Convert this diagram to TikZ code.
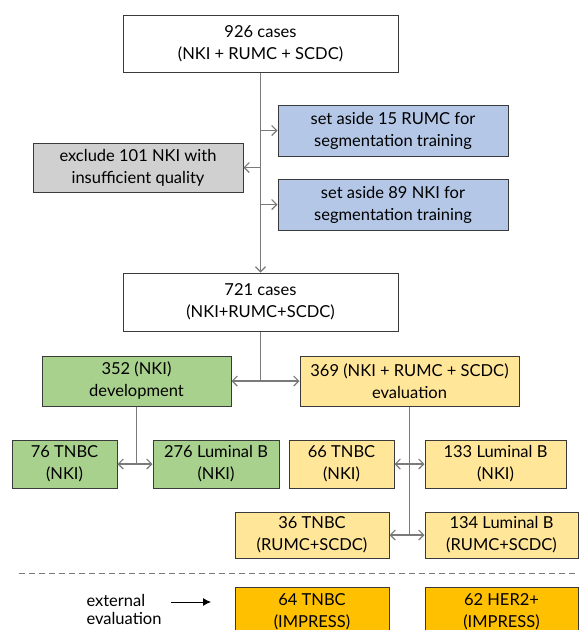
\documentclass[tikz,border=0pt]{standalone}
\usepackage{fontspec}
\setmainfont{Lato}
\usetikzlibrary{arrows.meta}
\definecolor{cblue}{HTML}{B4C7E7}
\definecolor{cgray}{HTML}{D0D0D0}
\definecolor{cgreen}{HTML}{A9D18E}
\definecolor{cyellow}{HTML}{FFE699}
\definecolor{corange}{HTML}{FFC000}
\definecolor{cline}{HTML}{7A7A7A}
\definecolor{cborder}{HTML}{3A3A3A}
\tikzset{
  box/.style={draw=cborder, line width=1pt, inner sep=0pt, align=center,
    font=\fontsize{16.5}{22}\selectfont},
  arr/.style={draw=cline, line width=1.1pt, -{Straight Barb[length=5pt,width=10pt]}},
  darr/.style={draw=cline, line width=1.1pt, {Straight Barb[length=5pt,width=10pt]}-{Straight Barb[length=5pt,width=10pt]}},
  ln/.style={draw=cline, line width=1.1pt},
}
\begin{document}
\begin{tikzpicture}[x=1pt,y=-1pt]
\useasboundingbox (0,0) rectangle (579,630);
\clip (0,0) rectangle (579,630);
\node[box, minimum width=275, minimum height=57] (top) at (260.5,43.5) {926 cases\\(NKI + RUMC + SCDC)};
\node[box, fill=cblue, minimum width=230, minimum height=51] (b1) at (393,130.5) {set aside 15 RUMC for\\segmentation training};
\node[box, fill=cgray, minimum width=210, minimum height=49] (gr) at (138,167.5) {exclude 101 NKI with\\insufficient quality};
\node[box, fill=cblue, minimum width=230, minimum height=51] (b2) at (393,204.5) {set aside 89 NKI for\\segmentation training};
\node[box, minimum width=275, minimum height=58] (mid) at (260.5,302) {721 cases\\(NKI+RUMC+SCDC)};
\node[box, fill=cgreen, minimum width=189, minimum height=50] (dev) at (136.5,381) {352 (NKI)\\development};
\node[box, fill=cyellow, minimum width=219, minimum height=50] (eval) at (409.5,381) {369 (NKI + RUMC + SCDC)\\evaluation};
\node[box, fill=cgreen, minimum width=105, minimum height=48] (g76) at (64.5,464) {76 TNBC\\(NKI)};
\node[box, fill=cgreen, minimum width=126, minimum height=48] (g276) at (216,464) {276 Luminal B\\(NKI)};
\node[box, fill=cyellow, minimum width=105, minimum height=48] (y66) at (341.5,464) {66 TNBC\\(NKI)};
\node[box, fill=cyellow, minimum width=141, minimum height=48] (y133) at (495.5,464) {133 Luminal B\\(NKI)};
\node[box, fill=cyellow, minimum width=154, minimum height=46] (y36) at (312,535) {36 TNBC\\(RUMC+SCDC)};
\node[box, fill=cyellow, minimum width=153, minimum height=46] (y134) at (501.5,535) {134 Luminal B\\(RUMC+SCDC)};
\node[box, fill=corange, minimum width=154, minimum height=50] (o64) at (312,612) {64 TNBC\\(IMPRESS)};
\node[box, fill=corange, minimum width=153, minimum height=50] (o62) at (501.5,612) {62 HER2+\\(IMPRESS)};
\node[align=left, inner sep=0pt, font=\fontsize{16.5}{18}\selectfont] (ext) at (124,609) {external\\evaluation};
\coordinate (ea) at (171,602);
\coordinate (eb) at (211,602);
\draw[black, line width=0.9pt, -{Latex[length=8pt,width=8pt]}] (ea) -- (eb);
\coordinate (dl) at (19,573);
\coordinate (dr) at (579,573);
\draw[cline, line width=1pt, dash pattern=on 6pt off 4pt] (dl) -- (dr);
% connectors
\draw[arr] (top.south) -- (mid.north);
\draw[arr] (top.south |- b1.west) -- (b1.west);
\draw[arr] (top.south |- gr.east) -- (gr.east);
\draw[arr] (top.south |- b2.west) -- (b2.west);
\coordinate (j1) at (mid.south |- dev.east);
\draw[ln] (mid.south) -- (j1);
\draw[darr] (dev.east) -- (eval.west);
\coordinate (j2) at (dev.south |- g76.east);
\draw[ln] (dev.south) -- (j2);
\draw[darr] (g76.east) -- (g276.west);
\coordinate (j3) at (eval.south |- y36.east);
\draw[ln] (eval.south) -- (j3);
\draw[darr] (y66.east) -- (y133.west);
\draw[darr] (y36.east) -- (y134.west);
\end{tikzpicture}
\end{document}
